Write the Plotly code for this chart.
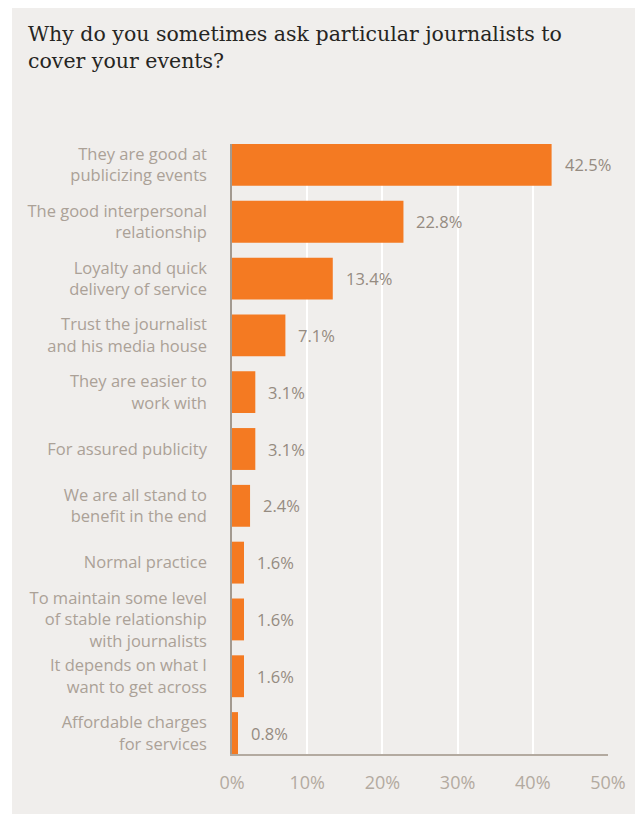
import plotly.graph_objects as go

# Survey answers, listed top to bottom, and their shares in percent
reasons = [
    "They are good at<br>publicizing events",
    "The good interpersonal<br>relationship",
    "Loyalty and quick<br>delivery of service",
    "Trust the journalist<br>and his media house",
    "They are easier to<br>work with",
    "For assured publicity",
    "We are all stand to<br>benefit in the end",
    "Normal practice",
    "To maintain some level<br>of stable relationship<br>with journalists",
    "It depends on what I<br>want to get across",
    "Affordable charges<br>for services",
]
shares = [42.5, 22.8, 13.4, 7.1, 3.1, 3.1, 2.4, 1.6, 1.6, 1.6, 0.8]
share_labels = ["42.5%", "22.8%", "13.4%", "7.1%", "3.1%", "3.1%", "2.4%", "1.6%", "1.6%", "1.6%", "0.8%"]
x_ticks = [0, 10, 20, 30, 40, 50]
x_tick_labels = ["0%", "10%", "20%", "30%", "40%", "50%"]

W, H = 635, 814
ML, MR, MT, MB = 232, 27, 144, 60
PW, PH = W - ML - MR, H - MT - MB

PANEL = "#f0eeec"
ORANGE = "#f47a22"
SANS = "Open Sans, Lato, sans-serif"
GAP = 0.263

fig = go.Figure(
    go.Bar(
        x=shares,
        y=reasons,
        orientation="h",
        marker=dict(color=ORANGE, line=dict(width=0)),
        hoverinfo="skip",
    )
)

# value labels placed just past the end of each bar
for r, v, t in zip(reasons, shares, share_labels):
    fig.add_annotation(
        x=v, y=r, text=t, showarrow=False, xanchor="left", yanchor="middle",
        xshift=11, font=dict(family=SANS, size=16.5, color="#958b81"),
    )

def px_x(p):
    return (p - ML) / PW

def px_y(p):
    return (H - MB - p) / PH

# light panel behind the whole chart, leaving a thin white edge top-left
fig.add_shape(
    type="rect", xref="paper", yref="paper", layer="below",
    x0=px_x(12), x1=px_x(W + 5), y0=px_y(H + 5), y1=px_y(8),
    fillcolor=PANEL, line=dict(width=0),
)

# two-line heading at the top left of the panel
fig.add_annotation(
    xref="paper", yref="paper", x=px_x(26), y=px_y(20),
    xanchor="left", yanchor="top", align="left", showarrow=False,
    text="Why do you sometimes ask particular journalists to<br>cover your events?",
    font=dict(family="DejaVu Serif, serif", size=20.5, color="#262522"),
)

n = len(reasons)
fig.update_layout(
    width=W, height=H,
    margin=dict(l=ML, r=MR, t=MT, b=MB, autoexpand=False),
    paper_bgcolor="white",
    plot_bgcolor=PANEL,
    bargap=GAP,
    showlegend=False,
    xaxis=dict(
        range=[0, 50], tickvals=x_ticks, ticktext=x_tick_labels,
        showgrid=True, gridcolor="white", gridwidth=2,
        zeroline=False, showline=True, linecolor="#b3aaa0", linewidth=2,
        ticks="", ticklabelstandoff=11,
        tickfont=dict(family=SANS, size=18, color="#b3aaa0"),
        fixedrange=True,
    ),
    yaxis=dict(
        type="category", categoryorder="array", categoryarray=reasons,
        range=[n - 1 + (0.5 - GAP / 2), -(0.5 - GAP / 2)],
        showgrid=False, zeroline=False,
        showline=True, linecolor="#a39a90", linewidth=1.5,
        ticks="", ticklabelstandoff=20,
        tickfont=dict(family=SANS, size=16.5, color="#aba197"),
        fixedrange=True,
    ),
)

fig.write_html("out.html", config={"displayModeBar": False})
